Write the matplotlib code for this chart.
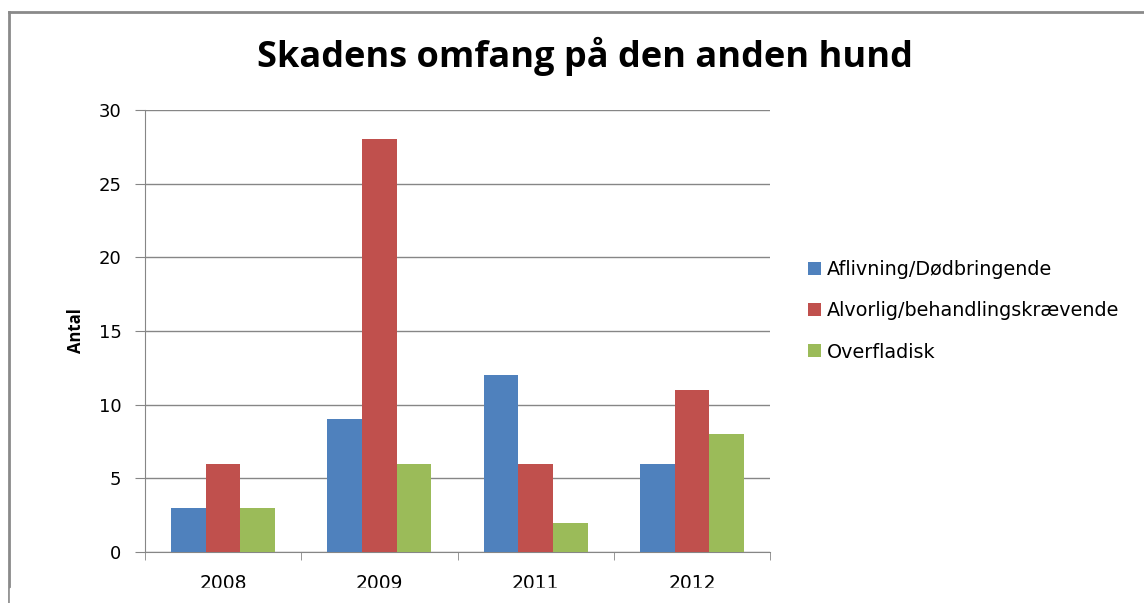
import numpy as np
import matplotlib.pyplot as plt
from matplotlib.patches import Rectangle
from matplotlib.lines import Line2D

years = ['2008', '2009', '2011', '2012']
series_names = ['Aflivning/Dødbringende', 'Alvorlig/behandlingskrævende', 'Overfladisk']
aflivning = [3, 9, 12, 6]
alvorlig = [6, 28, 6, 11]
overfladisk = [3, 6, 2, 8]
colors = ['#4f81bd', '#c0504d', '#9bbb59']

plt.rcParams['font.family'] = ['DejaVu Sans']

W, H = 1144, 603
fig = plt.figure(figsize=(W / 100, H / 100), dpi=100)

# plot area in pixel terms
left, right, top, bottom = 145, 770, 110, 552
ax = fig.add_axes([left / W, 1 - bottom / H, (right - left) / W, (bottom - top) / H])

x = np.arange(len(years))
w = 1 / 4.5  # excel gap width 150%
for i, (vals, name) in enumerate(zip([aflivning, alvorlig, overfladisk], series_names)):
    ax.bar(x + (i - 1) * w, vals, width=w, color=colors[i], label=name, zorder=3)

ax.set_xlim(-0.5, len(years) - 0.5)
ax.set_ylim(0, 30)
ax.set_yticks(range(0, 31, 5))
ax.yaxis.grid(True, color='#868686', linewidth=1.0, zorder=0)
for s in ['top', 'right']:
    ax.spines[s].set_visible(False)
for s in ['left', 'bottom']:
    ax.spines[s].set_color('#868686')
ax.tick_params(axis='y', length=7, color='#868686', labelsize=13, pad=10)
ax.tick_params(axis='x', length=0, labelsize=13.5, pad=15.5)
ax.set_xticks(x)
ax.set_xticklabels(years)
# category boundary ticks
ax.set_xticks(np.arange(-0.5, len(years)), minor=True)
ax.tick_params(axis='x', which='minor', length=6, color='#868686', direction='out')

ax.set_ylabel('Antal', fontsize=12, fontweight='bold', family='Open Sans', labelpad=9.5)

ax.legend(loc='center left', bbox_to_anchor=(791 / W, 1 - 311 / H), bbox_transform=fig.transFigure,
          frameon=False, fontsize=13.8, handlelength=0.66, handleheight=0.66, handletextpad=0.3,
          labelspacing=1.15)

fig.text(585 / W, 1 - 56 / H, 'Skadens omfang på den anden hund', ha='center', va='center',
         fontsize=26, fontweight='bold', family='Open Sans')

# outer chart frame (continues past the right and bottom edges)
fig.add_artist(Line2D([9 / W, 9 / W], [0, 1 - 12 / H], color='#8a8a8a', linewidth=2,
                      transform=fig.transFigure))
fig.add_artist(Line2D([9 / W, 1], [1 - 12 / H, 1 - 12 / H], color='#8a8a8a', linewidth=2,
                      transform=fig.transFigure))

# blank strip along the bottom where the chart was cut off
fig.add_artist(Rectangle((10 / W, 0), 1, 15 / H, transform=fig.transFigure, color='white', zorder=10))

fig.savefig('out.png', dpi=100)
